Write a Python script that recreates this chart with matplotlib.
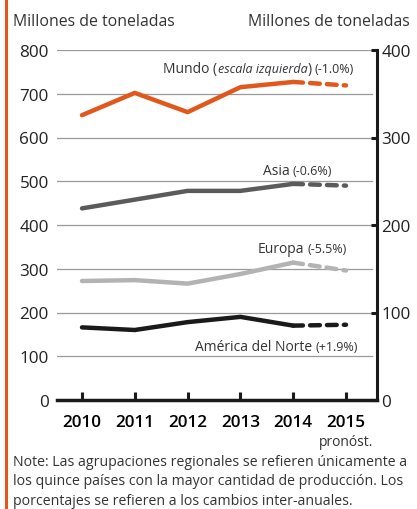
import matplotlib
matplotlib.use("Agg")
import matplotlib.pyplot as plt
from matplotlib.lines import Line2D

plt.rcParams['font.family'] = ['Open Sans', 'DejaVu Sans']

years = [2010, 2011, 2012, 2013, 2014, 2015]
mundo = [651, 702, 658, 715, 727, 719]          # left scale
asia = [219, 229, 239, 239, 247, 245]           # right scale
europa = [136, 137, 133, 144, 157, 148]
america = [83, 80, 89, 95, 85, 86]
left_ticks = [0, 100, 200, 300, 400, 500, 600, 700, 800]
right_ticks = [0, 100, 200, 300, 400]

W, H = 417, 510
ORANGE = '#E1571C'
fig = plt.figure(figsize=(W/100, H/100), dpi=100)
fig.add_artist(Line2D([6/W, 6/W], [0, 1], color=ORANGE, lw=2.2, transform=fig.transFigure))

ax = fig.add_axes([57/W, 1-401/H, 320/W, 350/H])
ax.set_xlim(2010 - 25/52.8, 2015 + 31/52.8)
ax.set_ylim(0, 800)
for t in left_ticks[1:]:
    ax.axhline(t, xmin=0, xmax=315/320, color='#9a9a9a', lw=0.9, zorder=1)
for s in ['top', 'left', 'right']:
    ax.spines[s].set_visible(False)
ax.spines['bottom'].set_linewidth(2.5)
ax.spines['bottom'].set_color('#1a1a1a')
ax.set_yticks(left_ticks)
ax.tick_params(axis='y', length=0, labelsize=12.3, pad=6, labelcolor='#222222')
ax.set_xticks(years)
ax.set_xticklabels([str(y) for y in years], fontweight='semibold')
ax.tick_params(axis='x', direction='in', length=6, width=2.2, color='#1a1a1a', labelsize=12.3, pad=10)

ax2 = ax.twinx()
ax2.set_ylim(0, 400)
for s in ['top', 'left', 'bottom']:
    ax2.spines[s].set_visible(False)
ax2.spines['right'].set_linewidth(2.2)
ax2.spines['right'].set_color('#1a1a1a')
ax2.set_yticks(right_ticks)
ax2.tick_params(axis='y', direction='in', length=4, width=2.2, color='#1a1a1a', labelsize=12.3, pad=3, labelcolor='#222222')

def draw(axis, vals, color, lw):
    axis.plot(years[:5], vals[:5], color=color, lw=lw, solid_capstyle='round', solid_joinstyle='round', zorder=3)
    axis.plot(years[4:], vals[4:], color=color, lw=lw, linestyle=(0, (2.2, 1.6)), dash_capstyle='round', zorder=3)

draw(ax, mundo, ORANGE, 3.2)
draw(ax2, asia, '#5b5b5b', 3.2)
draw(ax2, europa, '#b3b3b3', 3.2)
draw(ax2, america, '#1a1a1a', 3.2)

tc = '#333333'
renderer = fig.canvas.get_renderer()

def chain(x0, y, pieces):
    """pieces: list of (text, size, style, gap_after_px); x0 left in px, y baseline in px"""
    x = x0
    for txt, size, style, gap in pieces:
        t = fig.text(x/W, 1-y/H, txt, fontsize=size, color=tc, ha='left', va='baseline', style=style)
        w = t.get_window_extent(renderer).width
        x += w + gap

fig.text(13/W, 1-22/H, 'Millones de toneladas', fontsize=11.4, color=tc, va='center', ha='left')
fig.text(410/W, 1-22/H, 'Millones de toneladas', fontsize=11.4, color=tc, va='center', ha='right')

chain(163, 73, [('Mundo (', 10, 'normal', 0.5), ('escala izquierda', 9, 'italic', 0.5),
                (')', 10, 'normal', 3), ('(-1.0%)', 9, 'normal', 0)])
chain(263, 175, [('Asia', 10, 'normal', 3), ('(-0.6%)', 9, 'normal', 0)])
chain(258, 253, [('Europa', 10, 'normal', 3), ('(-5.5%)', 9, 'normal', 0)])
chain(195, 351, [('América del Norte', 10, 'normal', 3), ('(+1.9%)', 9, 'normal', 0)])

fig.text(346/W, 1-442/H, 'pronóst.', fontsize=10, color=tc, ha='center', va='center')
note = ("Note: Las agrupaciones regionales se refieren únicamente a\n"
        "los quince países con la mayor cantidad de producción. Los\n"
        "porcentajes se refieren a los cambios inter-anuales.")
fig.text(13/W, 1-455/H, note, fontsize=10.2, color=tc, ha='left', va='top', linespacing=1.4)

fig.savefig('out.png', dpi=100)
